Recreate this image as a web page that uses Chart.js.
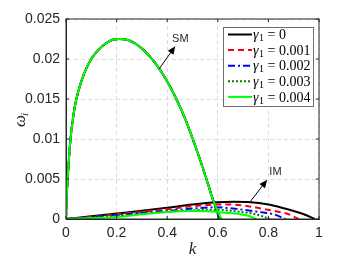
<!DOCTYPE html>
<html>
<head>
<meta charset="utf-8">
<script src="https://cdn.jsdelivr.net/npm/chart.js@4.4.1/dist/chart.umd.min.js"></script>
<style>
    html, body { margin: 0; padding: 0; background: #fff; }
    #wrap { width: 353px; height: 265px; }
</style>
</head>
<body>
<div id="wrap"><canvas id="growthChart" width="353" height="265"></canvas></div>
<script>
// gamma_1 Werte (Legende)
const gammaLabels = ["0", "0.001", "0.002", "0.003", "0.004"];

// SM-Zweig (fast identisch fuer alle gamma_1)
const smK = [0, 0.003, 0.007, 0.012, 0.017, 0.025, 0.037, 0.05, 0.065, 0.08, 0.1, 0.13, 0.16, 0.185, 0.21, 0.24, 0.27, 0.3, 0.35, 0.4, 0.436, 0.47, 0.501, 0.53, 0.554, 0.58];
const smW = [0, 0.0030, 0.0053, 0.0077, 0.0097, 0.0120, 0.0144, 0.0161, 0.0176, 0.0188, 0.0200, 0.0212, 0.0220, 0.0224, 0.0225, 0.0224, 0.0220, 0.0213, 0.0196, 0.0172, 0.0150, 0.0126, 0.0100, 0.0074, 0.0051, 0.0025];
const smEnd = [0.607, 0.608, 0.609, 0.611, 0.614];

// IM-Zweig, je gamma_1
const imK = [
    [0, 0.1, 0.2, 0.3, 0.4, 0.5, 0.6, 0.66, 0.73, 0.8, 0.86, 0.9, 0.94, 0.984],
    [0, 0.1, 0.2, 0.3, 0.4, 0.5, 0.6, 0.66, 0.72, 0.79, 0.84, 0.88, 0.919],
    [0, 0.1, 0.2, 0.3, 0.4, 0.5, 0.59, 0.66, 0.73, 0.78, 0.82, 0.867],
    [0, 0.1, 0.2, 0.3, 0.4, 0.5, 0.59, 0.66, 0.73, 0.77, 0.805],
    [0, 0.1, 0.2, 0.3, 0.4, 0.45, 0.5, 0.56, 0.62, 0.69, 0.72, 0.752]
];
const imW = [
    [0, 0.00033, 0.00068, 0.00102, 0.0014, 0.00182, 0.0021, 0.00215, 0.0021, 0.0018, 0.00135, 0.001, 0.0006, 0],
    [0, 0.0003, 0.0006, 0.0009, 0.00122, 0.0016, 0.0018, 0.0018, 0.0016, 0.0012, 0.0009, 0.0006, 0],
    [0, 0.00026, 0.0005, 0.00076, 0.001, 0.0013, 0.00146, 0.0013, 0.00104, 0.0008, 0.0006, 0],
    [0, 0.0002, 0.0004, 0.00065, 0.00088, 0.00108, 0.00117, 0.001, 0.00072, 0.0004, 0],
    [0, 0.00013, 0.00025, 0.0006, 0.00088, 0.00098, 0.001, 0.00096, 0.0008, 0.0006, 0.0004, 0]
];

const xTicks = [0, 0.2, 0.4, 0.6, 0.8, 1];
const yTicks = [0, 0.005, 0.01, 0.015, 0.02, 0.025];

// Pfeile mit Beschriftung: [k_start, w_start, k_spitze, w_spitze, text, k_text, w_text]
const arrows = [
    [0.369, 0.0188, 0.432, 0.0216, "SM", 0.452, 0.0225],
    [0.729, 0.0022, 0.795, 0.0049, "IM", 0.828, 0.0059]
];

const colors = ["#000000", "#ff0000", "#0000ff", "#008000", "#00ff00"];
const dashes = [[], [6, 4], [7, 3, 2, 3], [2, 2], []];

function toPoints(ks, ws) {
    return ks.map((k, i) => ({ x: k, y: ws[i] }));
}

const datasets = [];
gammaLabels.forEach((g, i) => {
    const style = {
        borderColor: colors[i],
        borderDash: dashes[i],
        borderWidth: 2,
        pointRadius: 0,
        showLine: true,
        fill: false,
        cubicInterpolationMode: 'monotone',
        order: 4 - i // gruen oben
    };
    datasets.push(Object.assign({ label: "sm" + i, data: toPoints(smK.concat([smEnd[i]]), smW.concat([0])) }, style));
    datasets.push(Object.assign({ label: "im" + i, data: toPoints(imK[i], imW[i]) }, style));
});

const axisColor = "#262626";

const decorPlugin = {
    id: 'decor',
    afterDraw(chart) {
        const ctx = chart.ctx;
        const a = chart.chartArea;
        const xs = chart.scales.x;
        const ys = chart.scales.y;
        ctx.save();

        // Rahmen oben/rechts + Innen-Ticks
        ctx.strokeStyle = axisColor;
        ctx.lineWidth = 1;
        ctx.strokeRect(a.left, a.top, a.right - a.left, a.bottom - a.top);
        ctx.beginPath();
        xTicks.forEach(v => {
            const px = xs.getPixelForValue(v);
            ctx.moveTo(px, a.bottom); ctx.lineTo(px, a.bottom - 3);
            ctx.moveTo(px, a.top); ctx.lineTo(px, a.top + 3);
        });
        yTicks.forEach(v => {
            const py = ys.getPixelForValue(v);
            ctx.moveTo(a.left, py); ctx.lineTo(a.left + 3, py);
            ctx.moveTo(a.right, py); ctx.lineTo(a.right - 3, py);
        });
        ctx.stroke();

        // Pfeile
        arrows.forEach(ar => {
            const x1 = xs.getPixelForValue(ar[0]), y1 = ys.getPixelForValue(ar[1]);
            const x2 = xs.getPixelForValue(ar[2]), y2 = ys.getPixelForValue(ar[3]);
            const ang = Math.atan2(y2 - y1, x2 - x1);
            ctx.strokeStyle = "#000";
            ctx.fillStyle = "#000";
            ctx.lineWidth = 1;
            ctx.beginPath();
            ctx.moveTo(x1, y1);
            ctx.lineTo(x2 - 5 * Math.cos(ang), y2 - 5 * Math.sin(ang));
            ctx.stroke();
            ctx.beginPath();
            ctx.moveTo(x2, y2);
            ctx.lineTo(x2 - 8 * Math.cos(ang) + 3.5 * Math.sin(ang), y2 - 8 * Math.sin(ang) - 3.5 * Math.cos(ang));
            ctx.lineTo(x2 - 8 * Math.cos(ang) - 3.5 * Math.sin(ang), y2 - 8 * Math.sin(ang) + 3.5 * Math.cos(ang));
            ctx.closePath();
            ctx.fill();
            ctx.fillStyle = axisColor;
            ctx.font = "11px 'Liberation Sans', Arial, sans-serif";
            ctx.textAlign = "center";
            ctx.textBaseline = "middle";
            ctx.fillText(ar[4], xs.getPixelForValue(ar[5]), ys.getPixelForValue(ar[6]));
        });

        // Achsentitel
        ctx.fillStyle = axisColor;
        ctx.font = "italic 17px 'Liberation Serif', serif";
        ctx.textAlign = "center";
        ctx.textBaseline = "middle";
        ctx.fillText("k", (a.left + a.right) / 2, 250);

        ctx.save();
        ctx.translate(21, (a.top + a.bottom) / 2);
        ctx.rotate(-Math.PI / 2);
        ctx.textAlign = "left";
        ctx.font = "italic 17px 'Liberation Serif', serif";
        ctx.fillText("ω", -8, 0);
        ctx.font = "italic 11px 'Liberation Serif', serif";
        ctx.fillText("i", 3, 4);
        ctx.restore();

        // Legende
        const lx = 223, ly = 27, lw = 90, lh = 79;
        ctx.fillStyle = "#fff";
        ctx.fillRect(lx, ly, lw, lh);
        ctx.strokeStyle = "#6e6e6e";
        ctx.lineWidth = 1;
        ctx.strokeRect(lx + 0.5, ly + 0.5, lw, lh);
        gammaLabels.forEach((g, i) => {
            const yy = ly + 7.5 + i * 15.6;
            ctx.strokeStyle = colors[i];
            ctx.lineWidth = 2;
            ctx.setLineDash(dashes[i]);
            ctx.beginPath();
            ctx.moveTo(lx + 5, yy);
            ctx.lineTo(lx + 29, yy);
            ctx.stroke();
            ctx.setLineDash([]);
            ctx.fillStyle = "#000";
            ctx.textAlign = "left";
            ctx.textBaseline = "middle";
            ctx.font = "italic 14px 'Liberation Serif', serif";
            ctx.fillText("γ", lx + 30, yy + 1);
            ctx.font = "10px 'Liberation Serif', serif";
            ctx.fillText("1", lx + 36, yy + 4);
            ctx.font = "14px 'Liberation Serif', serif";
            ctx.fillText(" = " + g, lx + 41, yy + 1);
        });
        ctx.restore();
    }
};

new Chart(document.getElementById('growthChart').getContext('2d'), {
    type: 'scatter',
    data: { datasets: datasets },
    options: {
        responsive: false,
        animation: false,
        devicePixelRatio: 1,
        layout: { padding: { top: 19, right: 34, left: 0, bottom: 0 } },
        plugins: { legend: { display: false }, tooltip: { enabled: false } },
        scales: {
            x: {
                type: 'linear',
                min: 0,
                max: 1,
                afterBuildTicks: scale => { scale.ticks = xTicks.map(v => ({ value: v })); },
                afterFit: scale => { scale.height = 46; },
                ticks: {
                    color: axisColor,
                    font: { family: "'Liberation Sans', Arial, sans-serif", size: 14 },
                    padding: 6,
                    maxRotation: 0,
                    callback: v => String(v)
                },
                grid: { color: "#dcdcdc", drawTicks: false },
                border: { color: axisColor, dash: [4, 3] }
            },
            y: {
                type: 'linear',
                min: 0,
                max: 0.025,
                afterBuildTicks: scale => { scale.ticks = yTicks.map(v => ({ value: v })); },
                afterFit: scale => { scale.width = 66; },
                ticks: {
                    color: axisColor,
                    font: { family: "'Liberation Sans', Arial, sans-serif", size: 14 },
                    padding: 6,
                    callback: v => String(+v.toFixed(3))
                },
                grid: { color: "#dcdcdc", drawTicks: false },
                border: { color: axisColor, dash: [4, 3] }
            }
        }
    },
    plugins: [decorPlugin]
});
</script>
</body>
</html>
